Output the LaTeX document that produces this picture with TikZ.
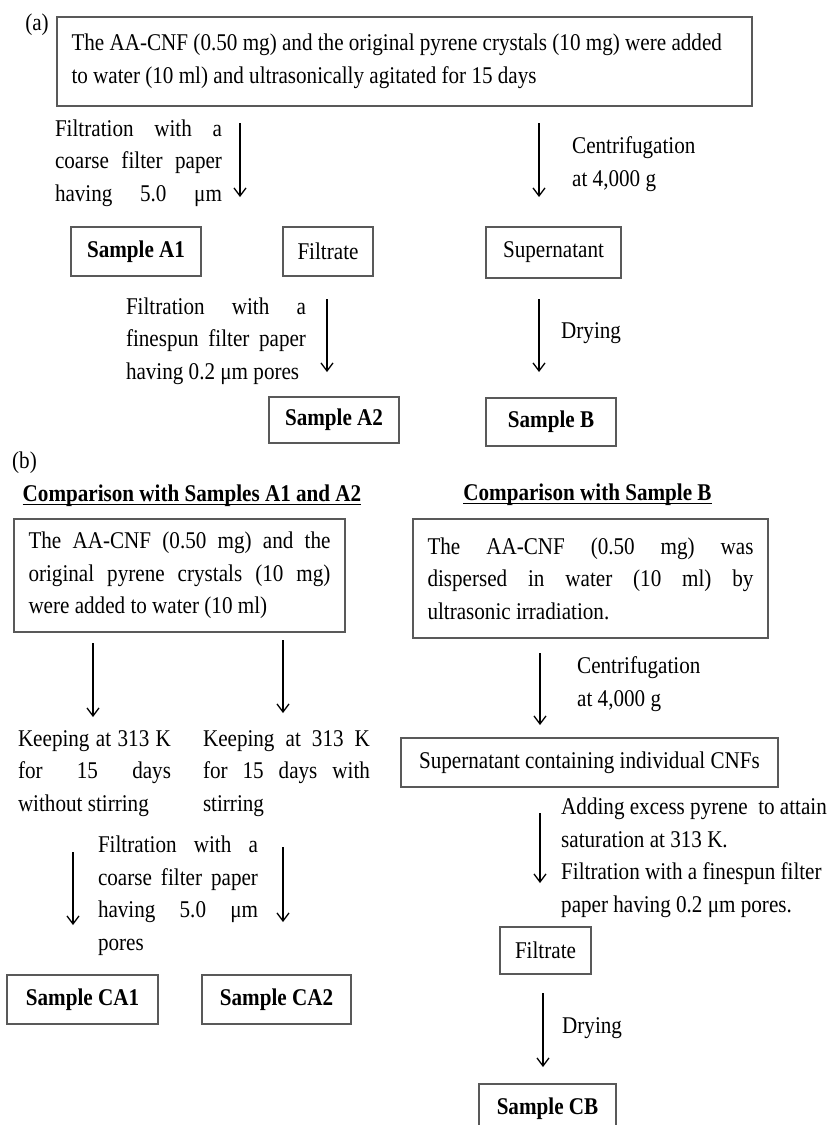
\documentclass[tikz,border=0pt]{standalone}
\usepackage{fontspec}
\setmainfont[FakeStretch=0.88]{Liberation Serif}
\usepackage{tikz}
\usetikzlibrary{arrows.meta, positioning}
\setlength{\parindent}{0pt}
\hyphenpenalty=10000
% one line spread to the width of its label
\newcommand{\jl}[1]{\makebox[\lw][s]{#1}}
% underline just under the baseline
\newcommand{\ulbar}[1]{\setbox0\hbox{#1}\rlap{\rule[-3.5pt]{\wd0}{1.2pt}}\box0}

\begin{document}
\begin{tikzpicture}[
  x=1pt, y=-1pt,
  every node/.style={font=\fontsize{24}{32.5}\selectfont, inner sep=0pt,
    execute at begin node={\spaceskip=0pt\xspaceskip=0pt}},
  box/.style={draw=black!65, line width=1.1pt, minimum height=49pt},
  txtbox/.style={box, text width=#1, inner xsep=14.5pt, align=left,
    execute at begin node={\def\lw{#1}}},
  lbl/.style={text width=#1, align=left, execute at begin node={\def\lw{#1}}},
  flow/.style={line width=1.3pt, -{Straight Barb[length=8pt,width=12pt,line width=1.3pt]}}
]
\useasboundingbox (0,0) rectangle (833,1125);
\clip (0,0) rectangle (833,1125);

% (a)
\node (tagA) at (37,25) {(a)};
\node[txtbox=666pt, minimum height=89pt] (start) at (404.5,61.5)
  {The AA-CNF (0.50 mg) and the original pyrene crystals (10 mg) were added\\
   to water (10 ml) and ultrasonically agitated for 15 days};
\node[lbl=167pt] (coarse) at (138.5,163)
  {\jl{Filtration with a}\\ \jl{coarse filter paper}\\ \jl{having 5.0 μm}};
\node[lbl=140pt, anchor=west] (centA) at (572,164) {Centrifugation\\at 4,000 g};

\node[box, minimum width=130pt] (sA1) at (136,251.5) {\textbf{Sample A1}};
\node[box, minimum width=90pt] (filtA) at (328,251.5) {Filtrate};
\node[box, minimum width=135pt, minimum height=51pt] (supA) at (553.5,252.5) {Supernatant};

\node[lbl=180pt] (fine) at (216,341)
  {\jl{Filtration with a}\\ \jl{finespun filter paper}\\ having 0.2 μm pores};
\node[anchor=west] (dryA) at (561,333) {Drying};

\node[box, minimum width=130pt, minimum height=46pt] (sA2) at (334,420) {\textbf{Sample A2}};
\node[box, minimum width=130pt, minimum height=48pt] (sB) at (551,422) {\textbf{Sample B}};

% (b)
\node (tagB) at (24.5,463) {(b)};
\node (headL) at (192,496) {\textbf{\ulbar{Comparison with Samples A1 and A2}}};
\node (headR) at (587.5,495) {\textbf{\ulbar{Comparison with Sample B}}};

\node[txtbox=302pt, minimum height=113pt] (mixL) at (179.5,575.5)
  {\jl{The AA-CNF (0.50 mg) and the}\\ \jl{original pyrene crystals (10 mg)}\\
   were added to water (10 ml)};
\node[txtbox=326pt, minimum height=119pt] (mixR) at (590.5,578.5)
  {\jl{The AA-CNF (0.50 mg) was}\\ \jl{dispersed in water (10 ml) by}\\
   ultrasonic irradiation.};

\node[lbl=153pt] (keep1) at (94.5,773.5)
  {\jl{Keeping at 313 K}\\ \jl{for 15 days}\\ without stirring};
\node[lbl=167pt] (keep2) at (286.5,773.5)
  {\jl{Keeping at 313 K}\\ \jl{for 15 days with}\\ stirring};
\node[lbl=160pt] (coarseB) at (178,895.5)
  {\jl{Filtration with a}\\ \jl{coarse filter paper}\\ \jl{having 5.0 μm}\\ pores};

\node[box, minimum width=151pt] (sCA1) at (82.5,999.5) {\textbf{Sample CA1}};
\node[box, minimum width=149pt] (sCA2) at (276.5,999.5) {\textbf{Sample CA2}};

\node[lbl=140pt, anchor=west] (centB) at (577,684) {Centrifugation\\at 4,000 g};
\node[box, minimum width=377pt] (supB) at (589.5,762.5) {Supernatant containing individual CNFs};
\node[lbl=268pt, anchor=west] (satur) at (561,858)
  {Adding excess pyrene\ \ to attain\\ saturation at 313 K.\\
   Filtration with a finespun filter\\ paper having 0.2 μm pores.};
\node[box, minimum width=91pt, minimum height=47pt] (filtB) at (545.5,950.5) {Filtrate};
\node[anchor=west] (dryB) at (562,1028) {Drying};
\node[box, minimum width=137pt] (sCB) at (547.5,1108.5) {\textbf{Sample CB}};

% arrow ends
\coordinate (a1s) at (240,123);  \coordinate (a1e) at (240,197);
\coordinate (a2s) at (539,123);  \coordinate (a2e) at (539,197);
\coordinate (a3s) at (327,299);  \coordinate (a3e) at (327,372);
\coordinate (a4s) at (539,299);  \coordinate (a4e) at (539,372);
\coordinate (b1s) at (93,643);   \coordinate (b1e) at (93,717);
\coordinate (b2s) at (283,640);  \coordinate (b2e) at (283,713);
\coordinate (b3s) at (73,852);   \coordinate (b3e) at (73,925);
\coordinate (b4s) at (283,847);  \coordinate (b4e) at (283,922);
\coordinate (b5s) at (540,653);  \coordinate (b5e) at (540,725);
\coordinate (b6s) at (540,813);  \coordinate (b6e) at (540,883);
\coordinate (b7s) at (543,993);  \coordinate (b7e) at (543,1067);

\foreach \a in {a1,a2,a3,a4,b1,b2,b3,b4,b5,b6,b7}
  \draw[flow] (\a s) -- (\a e);
\end{tikzpicture}
\end{document}
